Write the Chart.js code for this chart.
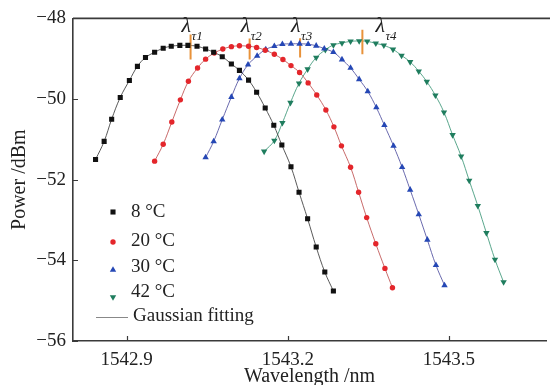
<!DOCTYPE html>
<html>
<head>
<meta charset="utf-8">
<script src="https://cdn.jsdelivr.net/npm/chart.js@4.4.1/dist/chart.umd.min.js"></script>
<style>
  html, body { margin: 0; padding: 0; background: #fff; }
  #wrap { width: 550px; height: 385px; }
</style>
</head>
<body>
<div id="wrap"><canvas id="c" width="550" height="385"></canvas></div>
<script>
// measured spectra (wavelength nm / power dBm)
const wl8 = [1542.842, 1542.858, 1542.872, 1542.888, 1542.905, 1542.920, 1542.935, 1542.952, 1542.968, 1542.983,
  1542.999, 1543.014, 1543.031, 1543.047, 1543.062, 1543.078, 1543.095, 1543.110, 1543.127, 1543.142,
  1543.158, 1543.174, 1543.189, 1543.206, 1543.221, 1543.237, 1543.253, 1543.269, 1543.285];
const p8 = [-51.50, -51.05, -50.50, -49.96, -49.54, -49.19, -48.97, -48.84, -48.74, -48.69,
  -48.67, -48.67, -48.69, -48.76, -48.84, -48.95, -49.13, -49.29, -49.53, -49.83,
  -50.22, -50.65, -51.14, -51.68, -52.31, -52.97, -53.67, -54.29, -54.76];

const wl20 = [1542.952, 1542.968, 1542.984, 1543.000, 1543.015, 1543.032, 1543.047, 1543.063, 1543.079, 1543.095,
  1543.110, 1543.127, 1543.142, 1543.158, 1543.175, 1543.191, 1543.206, 1543.222, 1543.238, 1543.254,
  1543.271, 1543.286, 1543.300, 1543.317, 1543.332, 1543.347, 1543.364, 1543.381, 1543.395];
const p20 = [-51.54, -51.12, -50.57, -50.02, -49.56, -49.23, -49.01, -48.86, -48.76, -48.70,
  -48.68, -48.69, -48.72, -48.79, -48.89, -49.02, -49.17, -49.34, -49.60, -49.90,
  -50.27, -50.69, -51.16, -51.69, -52.31, -52.94, -53.59, -54.20, -54.68];

const wl30 = [1543.047, 1543.062, 1543.078, 1543.095, 1543.110, 1543.126, 1543.143, 1543.159, 1543.175, 1543.190,
  1543.206, 1543.222, 1543.238, 1543.253, 1543.268, 1543.285, 1543.301, 1543.317, 1543.333, 1543.349,
  1543.365, 1543.380, 1543.397, 1543.413, 1543.428, 1543.444, 1543.460, 1543.476, 1543.492];
const p30 = [-51.45, -51.05, -50.51, -49.95, -49.49, -49.15, -48.93, -48.77, -48.69, -48.64,
  -48.63, -48.63, -48.64, -48.68, -48.75, -48.84, -49.02, -49.23, -49.51, -49.81,
  -50.21, -50.65, -51.16, -51.69, -52.25, -52.86, -53.49, -54.12, -54.62];

const wl42 = [1543.156, 1543.175, 1543.190, 1543.205, 1543.221, 1543.237, 1543.253, 1543.270, 1543.285, 1543.301,
  1543.317, 1543.333, 1543.348, 1543.364, 1543.379, 1543.396, 1543.412, 1543.428, 1543.444, 1543.459,
  1543.475, 1543.491, 1543.507, 1543.523, 1543.538, 1543.554, 1543.570, 1543.586, 1543.602];
const p42 = [-51.30, -51.03, -50.59, -50.09, -49.61, -49.26, -48.97, -48.78, -48.66, -48.61,
  -48.57, -48.56, -48.57, -48.62, -48.67, -48.77, -48.92, -49.08, -49.31, -49.57,
  -49.91, -50.33, -50.89, -51.42, -52.02, -52.65, -53.32, -53.98, -54.54];

// peak wavelength markers (λτ1..λτ4) and their vertical extent
const peakWl = [1543.019, 1543.129, 1543.223, 1543.339];
const peakTop = [-48.40, -48.50, -48.49, -48.28];
const peakBottom = [-49.02, -49.02, -48.97, -48.89];
const peakNames = ['τ1', 'τ2', 'τ3', 'τ4'];

const seriesLabels = ['8 \u00b0C', '20 \u00b0C', '30 \u00b0C', '42 \u00b0C'];
const fitLabel = 'Gaussian fitting';
const xTicks = [1542.9, 1543.2, 1543.5];
const yTicks = [-56, -54, -52, -50, -48];

const serif = '"Liberation Serif", "DejaVu Serif", serif';

const styles = [
  { color: '#111111', line: 'rgba(60,60,60,0.85)', shape: 'rect', r: 3.6, rot: 0 },
  { color: '#e4262b', line: 'rgba(190,80,80,0.85)', shape: 'circle', r: 2.7, rot: 0 },
  { color: '#2547b5', line: 'rgba(80,80,160,0.85)', shape: 'triangle', r: 3.7, rot: 0 },
  { color: '#1f7d5e', line: 'rgba(60,150,120,0.85)', shape: 'triangle', r: 3.7, rot: 180 }
];

function pts(xs, ys) {
  return xs.map((x, i) => ({ x: x, y: ys[i] }));
}

const measured = [pts(wl8, p8), pts(wl20, p20), pts(wl30, p30), pts(wl42, p42)];

const datasets = [];
// fitting curves underneath
measured.forEach((d, i) => {
  datasets.push({
    data: d, showLine: true, borderColor: styles[i].line, borderWidth: 1,
    pointRadius: 0, tension: 0.4, fill: false, order: 3
  });
});
// peak markers
peakWl.forEach((w, i) => {
  datasets.push({
    data: [{ x: w, y: peakTop[i] }, { x: w, y: peakBottom[i] }],
    showLine: true, borderColor: '#e8923a', borderWidth: 2,
    pointRadius: 0, fill: false, order: 2
  });
});
// measured points
measured.forEach((d, i) => {
  datasets.push({
    data: d, showLine: false,
    pointStyle: styles[i].shape, pointRadius: styles[i].r, pointRotation: styles[i].rot,
    pointBackgroundColor: styles[i].color, pointBorderColor: styles[i].color, pointBorderWidth: 0,
    order: 1
  });
});

// frame, inside ticks, λ labels and legend
const decor = {
  id: 'decor',
  afterDraw(chart) {
    const ctx = chart.ctx;
    const a = chart.chartArea;
    const xs = chart.scales.x, ys = chart.scales.y;
    ctx.save();
    ctx.strokeStyle = '#3a3a3a';
    ctx.lineWidth = 1.6;
    ctx.beginPath();
    ctx.moveTo(a.left, a.top);
    ctx.lineTo(550, a.top);
    ctx.stroke();

    ctx.lineWidth = 1.2;
    ctx.beginPath();
    xTicks.forEach(v => {
      const px = Math.round(xs.getPixelForValue(v)) + 0.5;
      ctx.moveTo(px, a.bottom);
      ctx.lineTo(px, a.bottom - 5);
    });
    yTicks.forEach(v => {
      const py = Math.round(ys.getPixelForValue(v)) + 0.5;
      ctx.moveTo(a.left, py);
      ctx.lineTo(a.left + 5, py);
    });
    ctx.stroke();

    // λ labels
    ctx.fillStyle = '#222';
    ctx.textBaseline = 'alphabetic';
    ctx.textAlign = 'left';
    peakWl.forEach((w, i) => {
      const px = xs.getPixelForValue(w) + (i === 3 ? 13 : -9);
      ctx.font = 'italic 22px ' + serif;
      ctx.fillText('\u03bb', px, 32);
      ctx.font = 'italic 13px ' + serif;
      ctx.fillText(peakNames[i], px + 10, 40);
    });

    // legend
    const lx = a.left + 40, tx = a.left + 58;
    const rows = [212, 241, 267, 292];
    const marks = [212, 242, 270, 297];
    ctx.font = '19px ' + serif;
    ctx.textBaseline = 'middle';
    seriesLabels.forEach((lab, i) => {
      const st = styles[i];
      ctx.fillStyle = st.color;
      ctx.strokeStyle = st.color;
      Chart.helpers.drawPoint(ctx, {
        pointStyle: st.shape, radius: st.r, rotation: st.rot, borderWidth: 0
      }, lx, marks[i]);
      ctx.fillStyle = '#222';
      ctx.fillText(lab, tx, rows[i]);
    });
    ctx.strokeStyle = '#888';
    ctx.lineWidth = 1;
    ctx.beginPath();
    ctx.moveTo(a.left + 23, 317.5);
    ctx.lineTo(a.left + 55, 317.5);
    ctx.stroke();
    ctx.fillStyle = '#222';
    ctx.fillText(fitLabel, tx + 2, 316);
    ctx.restore();
  }
};

const fmt = v => (v < 0 ? '\u2212' + Math.abs(v) : String(v));

new Chart(document.getElementById('c'), {
  type: 'scatter',
  data: { datasets: datasets },
  options: {
    responsive: false,
    animation: false,
    layout: { padding: { top: 18, right: 0, left: 0, bottom: 0 } },
    plugins: { legend: { display: false }, tooltip: { enabled: false } },
    scales: {
      x: {
        type: 'linear', min: 1542.8, max: 1543.681,
        afterBuildTicks: s => { s.ticks = xTicks.map(v => ({ value: v })); },
        afterFit: s => { s.height = 44; },
        grid: { display: true, drawOnChartArea: false, drawTicks: false },
        border: { color: '#3a3a3a', width: 1.6 },
        ticks: { color: '#222', padding: 8, maxRotation: 0, font: { family: serif, size: 19 }, callback: v => fmt(v) },
        title: { display: true, text: 'Wavelength /nm', color: '#222', padding: { top: 0, bottom: -4 }, font: { family: serif, size: 20 } }
      },
      y: {
        min: -56, max: -48,
        afterBuildTicks: s => { s.ticks = yTicks.map(v => ({ value: v })); },
        afterFit: s => { s.width = 73; },
        grid: { display: true, drawOnChartArea: false, drawTicks: false },
        border: { color: '#3a3a3a', width: 1.6 },
        ticks: { color: '#222', padding: 7, font: { family: serif, size: 19 }, callback: v => fmt(v) },
        title: { display: true, text: 'Power /dBm', color: '#222', padding: { top: 8, bottom: 0 }, font: { family: serif, size: 20 } }
      }
    }
  },
  plugins: [decor]
});
</script>
</body>
</html>
